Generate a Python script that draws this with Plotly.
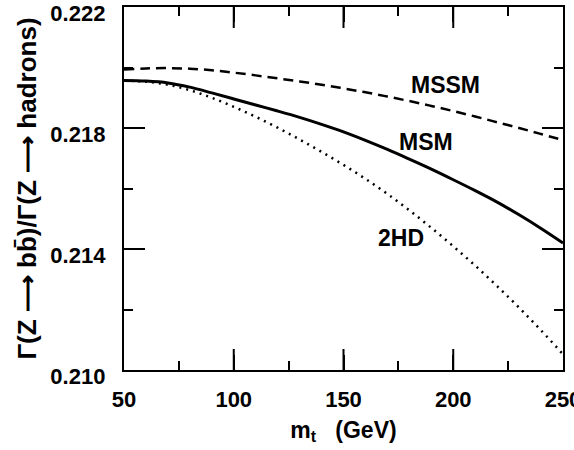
import plotly.graph_objects as go

# top-quark mass (GeV)
m_t = [50, 60, 70, 80, 90, 100, 110, 120, 130, 140, 150,
       160, 170, 180, 190, 200, 210, 220, 230, 240, 250]

# R_b = Gamma(Z->bb)/Gamma(Z->hadrons)
mssm = [0.21993, 0.21997, 0.21998, 0.21996, 0.21991, 0.21983, 0.21974,
        0.21964, 0.21954, 0.21943, 0.21931, 0.21918, 0.21904, 0.21889,
        0.21873, 0.21856, 0.21838, 0.21819, 0.21800, 0.21780, 0.21760]
msm = [0.21957, 0.21955, 0.21949, 0.21935, 0.21916, 0.21896, 0.21876,
       0.21856, 0.21835, 0.21812, 0.21787, 0.21759, 0.21729, 0.21697,
       0.21664, 0.21629, 0.21593, 0.21555, 0.21513, 0.21468, 0.21420]
hd2 = [0.21957, 0.21953, 0.21943, 0.21925, 0.21900, 0.21870, 0.21837,
       0.21801, 0.21762, 0.21721, 0.21678, 0.21632, 0.21582, 0.21528,
       0.21470, 0.21409, 0.21345, 0.21277, 0.21206, 0.21131, 0.21052]

labels = ["MSSM", "MSM", "2HD"]
label_x = [196.6, 187.4, 176.0]
label_y = [0.21941, 0.21754, 0.21436]

x_range = [50, 250]
y_range = [0.210, 0.222]
x_major = [100, 150, 200]
y_major = [0.214, 0.218]

FONT = "Liberation Sans, Arial, sans-serif"
TICKLEN = 15

fig = go.Figure()
fig.add_trace(go.Scatter(x=m_t, y=mssm, mode="lines", line_shape="spline",
                         line=dict(color="black", width=2.5, dash="10px,6px"),
                         name="MSSM"))
fig.add_trace(go.Scatter(x=m_t, y=msm, mode="lines", line_shape="spline",
                         line=dict(color="black", width=3),
                         name="MSM"))
fig.add_trace(go.Scatter(x=m_t, y=hd2, mode="lines", line_shape="spline",
                         line=dict(color="black", width=2.5, dash="2px,5px"),
                         name="2HD"))

# long major tick marks (inside half of a centred line marker, clipped by the axes)
tick_marker_x = dict(symbol="line-ns-open", size=2 * TICKLEN, color="black",
                     line=dict(color="black", width=2))
tick_marker_y = dict(symbol="line-ew-open", size=2 * TICKLEN, color="black",
                     line=dict(color="black", width=2))
fig.add_trace(go.Scatter(x=x_major + x_major,
                         y=[y_range[0]] * len(x_major) + [y_range[1]] * len(x_major),
                         mode="markers", marker=tick_marker_x, cliponaxis=True,
                         hoverinfo="skip", name="xticks"))
fig.add_trace(go.Scatter(x=[x_range[0]] * len(y_major) + [x_range[1]] * len(y_major),
                         y=y_major + y_major,
                         mode="markers", marker=tick_marker_y, cliponaxis=True,
                         hoverinfo="skip", name="yticks"))

for t, xx, yy in zip(labels, label_x, label_y):
    fig.add_annotation(x=xx, y=yy, text="<b>" + t + "</b>", showarrow=False,
                       font=dict(family=FONT, size=23, color="black"))

tickfont = dict(family=FONT, size=22, color="black", weight="bold")
line_common = dict(showline=True, linecolor="black", linewidth=2, mirror="allticks",
                   showgrid=False, zeroline=False)

fig.update_layout(
    xaxis=dict(range=x_range, tickmode="linear", tick0=50, dtick=50,
               ticks="inside", ticklen=TICKLEN, tickwidth=2, tickcolor="black",
               minor=dict(ticks="inside", dtick=25, ticklen=9, tickcolor="black",
                          tickwidth=1.5),
               ticklabeloverflow="allow", tickfont=tickfont,
               title=dict(text="<b>m<sub>t</sub>   (GeV)</b>", standoff=10,
                          font=dict(family=FONT, size=23, color="black")),
               ticklabelstandoff=9, **line_common),
    yaxis=dict(range=y_range, tickmode="linear", tick0=0.210, dtick=0.004,
               ticks="inside", ticklen=TICKLEN, tickwidth=2, tickcolor="black",
               minor=dict(ticks="inside", dtick=0.002, tick0=0.210, ticklen=9,
                          tickcolor="black", tickwidth=1.5),
               ticklabeloverflow="allow", tickfont=tickfont,
               tickformat=".3f", ticksuffix="\u00a0\u00a0", ticklabelshift=6,
               title=dict(text="<b>Γ(Z ⟶ bb̄)/Γ(Z ⟶ hadrons)</b>", standoff=6,
                          font=dict(family=FONT, size=26, color="black")),
               **line_common),
    width=574, height=450, showlegend=False,
    margin=dict(l=124, r=11, t=7, b=80, autoexpand=False),
    plot_bgcolor="white", paper_bgcolor="white",
)

fig.write_html("out.html")
